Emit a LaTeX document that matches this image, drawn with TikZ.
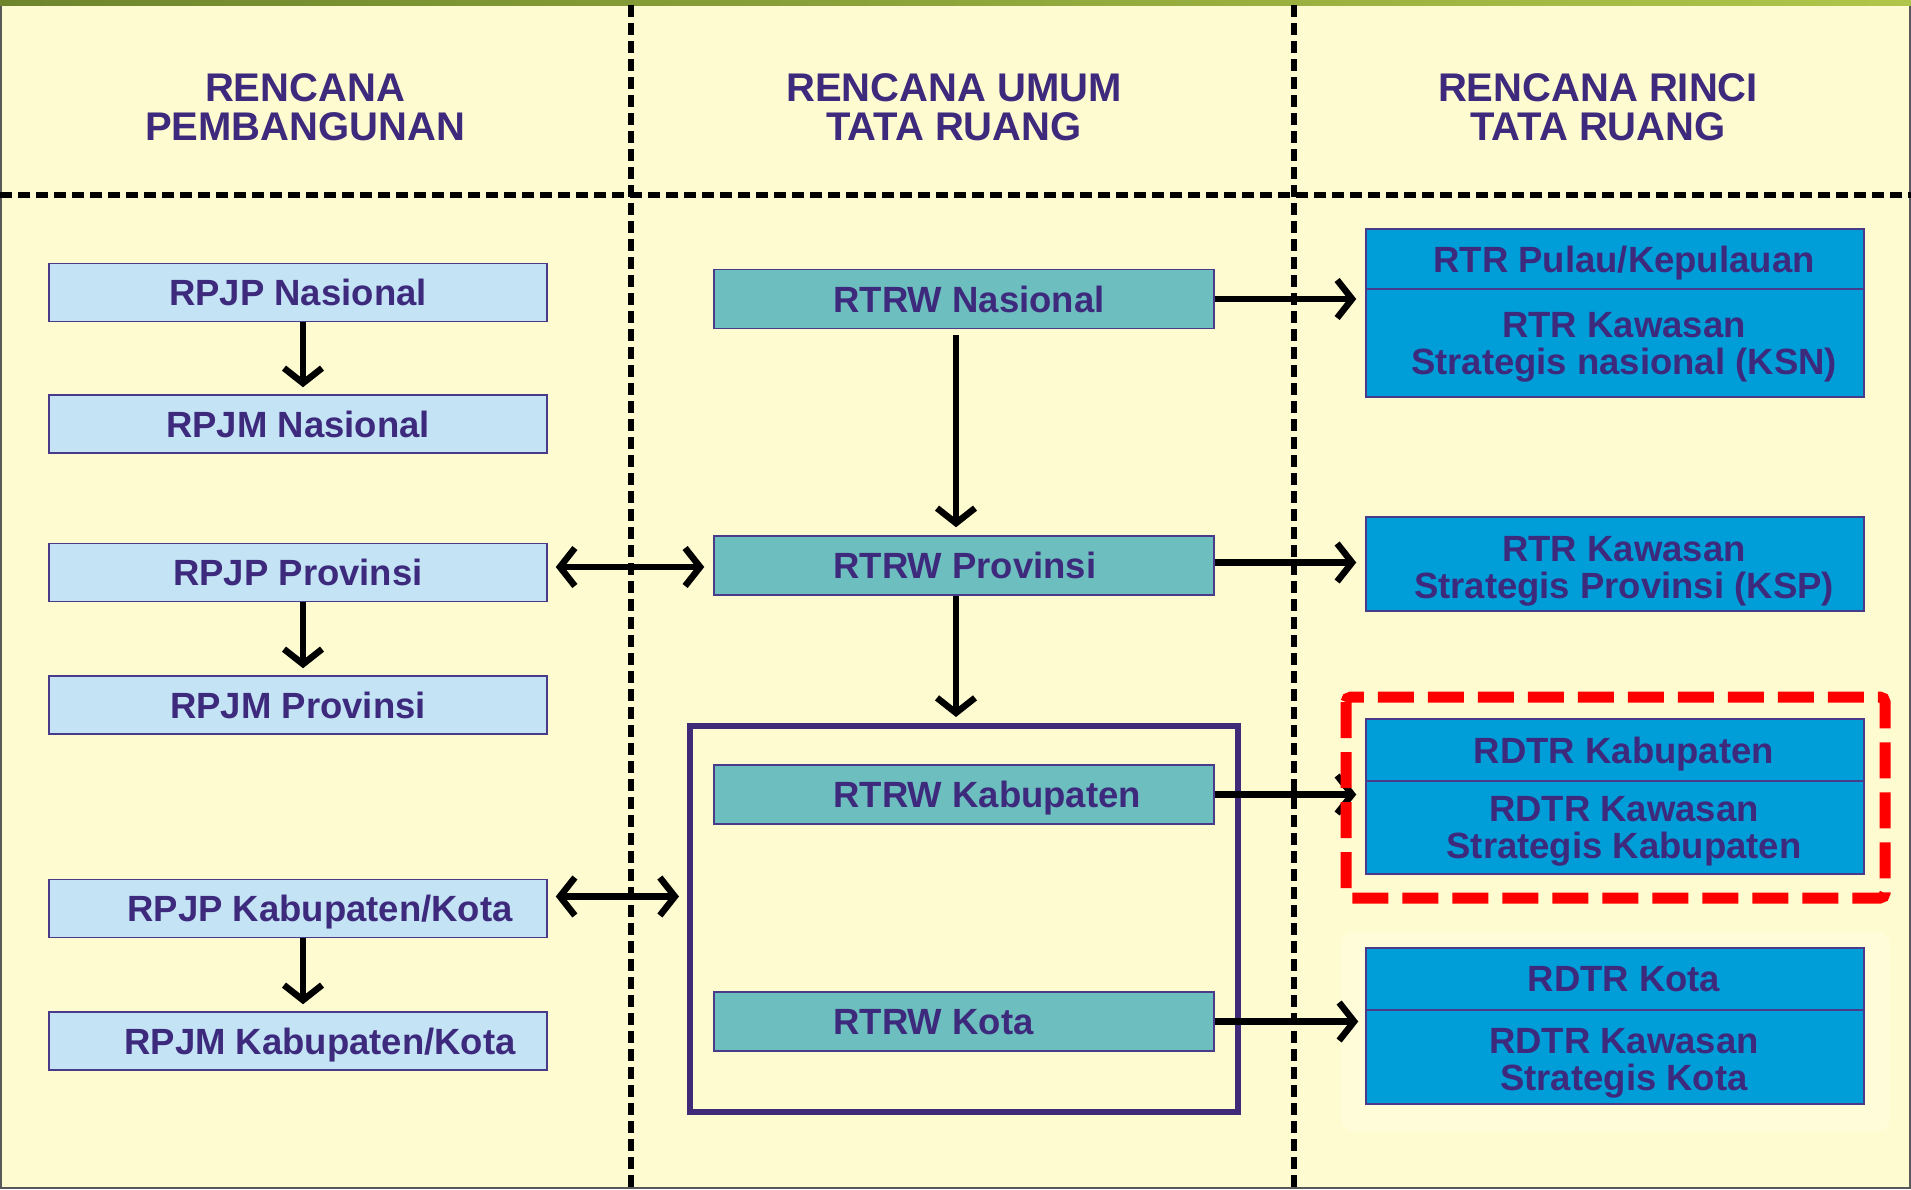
\documentclass[tikz,border=0pt]{standalone}
\usepackage{fontspec}
\setmainfont{Liberation Sans}
\usetikzlibrary{arrows.meta}
\definecolor{bgyellow}{HTML}{FFFBD0}
\definecolor{paleyel}{HTML}{FFFCDA}
\definecolor{txtpurple}{HTML}{3D2A7C}
\definecolor{lblue}{HTML}{C4E4F6}
\definecolor{tealbox}{HTML}{6DBEBE}
\definecolor{rblue}{HTML}{009ED8}
\definecolor{edgecol}{HTML}{4A3A8A}
\definecolor{framecol}{HTML}{3F2A78}
\definecolor{greenL}{HTML}{6E852C}
\definecolor{greenR}{HTML}{AFC64A}
\definecolor{redline}{HTML}{FF0000}
\begin{document}
\begin{tikzpicture}[x=1pt,y=-1pt,
  bt/.style={font=\bfseries\fontsize{36.5}{37}\selectfont, text=txtpurple, align=center, inner sep=0pt, text depth=0pt},
  hd/.style={font=\bfseries\fontsize{40}{39}\selectfont, text=txtpurple, align=center, inner sep=0pt},
  lbox/.style={draw=edgecol, line width=1.5pt, fill=lblue, minimum width=498pt, minimum height=58pt, inner sep=0pt},
  mbox/.style={draw=edgecol, line width=1.5pt, fill=tealbox, minimum width=500pt, minimum height=59pt, inner sep=0pt},
  rbox/.style={draw=edgecol, line width=1.5pt, fill=rblue, minimum width=498pt, inner sep=0pt},
  tipb/.tip={Straight Barb[length=15pt,width=38pt]},
  arr/.style={draw=black, line width=6.5pt, -tipb},
  darr/.style={draw=black, line width=6.5pt, tipb-tipb},
  sepline/.style={draw=black, line width=6pt, dash pattern=on 12pt off 6pt},
]
\useasboundingbox (0,0) rectangle (1911,1189);
% background and frame
\fill[bgyellow] (0,0) rectangle (1911,1189);
\draw[gray!70!black, line width=2pt] (1,1) rectangle (1910,1188);
\shade[left color=greenL, right color=greenR] (0,0) rectangle (1911,5);
% pale highlight behind kota box
\fill[paleyel, rounded corners=12pt] (1341,932) rectangle (1890,1131);
% separators
\draw[sepline] (0,195) -- (1911,195);
\draw[sepline] (631,5) -- (631,1189);
\draw[sepline] (1294,5) -- (1294,1189);
% headers
\node[hd] (h1) at (305,107.5) {RENCANA\\PEMBANGUNAN};
\node[hd] (h2) at (954,107.5) {RENCANA UMUM\\TATA RUANG};
\node[hd] (h3) at (1598,107.5) {RENCANA RINCI\\TATA RUANG};
% left column
\node[lbox] (rpjpnas) at (298,292.5) {};
\node[bt] at (rpjpnas) {RPJP Nasional};
\node[lbox] (rpjmnas) at (298,424) {};
\node[bt] at (rpjmnas) {RPJM Nasional};
\node[lbox] (rpjpprov) at (298,572.5) {};
\node[bt] at (rpjpprov) {RPJP Provinsi};
\node[lbox] (rpjmprov) at (298,705) {};
\node[bt] at (rpjmprov) {RPJM Provinsi};
\node[lbox] (rpjpkab) at (298,908.5) {};
\node[bt] at ([xshift=22pt]rpjpkab.center) {RPJP Kabupaten/Kota};
\node[lbox] (rpjmkab) at (298,1041) {};
\node[bt] at ([xshift=22pt]rpjmkab.center) {RPJM Kabupaten/Kota};
% middle column
\node[draw=framecol, line width=6pt, minimum width=548pt, minimum height=386pt, inner sep=0pt] (kabframe) at (964,919) {};
\node[mbox] (rtrwnas) at (964,299) {};
\node[bt, anchor=west] at ([xshift=120pt]rtrwnas.west) {RTRW Nasional};
\node[mbox] (rtrwprov) at (964,565.5) {};
\node[bt, anchor=west] at ([xshift=120pt]rtrwprov.west) {RTRW Provinsi};
\node[mbox] (rtrwkab) at (964,794.5) {};
\node[bt, anchor=west] at ([xshift=120pt]rtrwkab.west) {RTRW Kabupaten};
\node[mbox] (rtrwkota) at (964,1021.5) {};
\node[bt, anchor=west] at ([xshift=120pt]rtrwkota.west) {RTRW Kota};
% right column
\node[rbox, minimum height=60pt] (r1a) at (1615,259) {};
\node[bt] at ([xshift=9pt]r1a.center) {RTR Pulau/Kepulauan};
\node[rbox, minimum height=108pt] (r1b) at (1615,343) {};
\node[bt] at ([xshift=9pt]r1b.center) {RTR Kawasan\\Strategis nasional (KSN)};
\node[rbox, minimum height=94pt] (r2) at (1615,564) {};
\node[bt] at ([xshift=9pt,yshift=-3pt]r2.center) {RTR Kawasan\\Strategis Provinsi (KSP)};
\node[rbox, minimum height=62pt] (r3a) at (1615,750) {};
\node[bt] at ([xshift=9pt]r3a.center) {RDTR Kabupaten};
\node[rbox, minimum height=93pt] (r3b) at (1615,827.5) {};
\node[bt] at ([xshift=9pt]r3b.center) {RDTR Kawasan\\Strategis Kabupaten};
\node[rbox, minimum height=62pt] (r4a) at (1615,979) {};
\node[bt] at ([xshift=9pt]r4a.center) {RDTR Kota};
\node[rbox, minimum height=94pt] (r4b) at (1615,1057) {};
\node[bt] at ([xshift=9pt,yshift=-2pt]r4b.center) {RDTR Kawasan\\Strategis Kota};
% vertical arrows left
\draw[arr, shorten >=7pt] ([xshift=5pt]rpjpnas.south) -- ([xshift=5pt]rpjmnas.north);
\draw[arr, shorten >=7pt] ([xshift=5pt]rpjpprov.south) -- ([xshift=5pt]rpjmprov.north);
\draw[arr, shorten >=7pt] ([xshift=5pt]rpjpkab.south) -- ([xshift=5pt]rpjmkab.north);
% vertical arrows middle
\draw[arr, shorten <=6pt, shorten >=8pt] ([xshift=-8pt]rtrwnas.south) -- ([xshift=-8pt]rtrwprov.north);
\draw[arr, shorten >=6pt] ([xshift=-8pt]rtrwprov.south) -- ([xshift=-8pt]kabframe.north);
% double arrows
\draw[darr, shorten <=8pt, shorten >=9pt] ([yshift=5.5pt]rpjpprov.east) -- ([yshift=5.5pt]rpjpprov.east -| rtrwprov.west);
\draw[darr, shorten <=8pt, shorten >=8pt] ([yshift=12pt]rpjpkab.east) -- ([yshift=12pt]rpjpkab.east -| kabframe.west);
% arrows to right column
\draw[arr, shorten >=9pt] (rtrwnas.east) -- (rtrwnas.east -| r1b.west);
\draw[arr, shorten >=9pt] ([yshift=3pt]rtrwprov.east) -- ([yshift=3pt]rtrwprov.east -| r2.west);
\draw[arr, shorten >=9pt] (rtrwkab.east) -- (rtrwkab.east -| r3b.west);
\draw[arr, shorten >=7pt] (rtrwkota.east) -- (rtrwkota.east -| r4b.west);
% red dashed highlight
\draw[redline, line width=11pt, dash pattern=on 36pt off 14pt, rounded corners=5pt] (1346,697) rectangle (1885,898);
\end{tikzpicture}
\end{document}
